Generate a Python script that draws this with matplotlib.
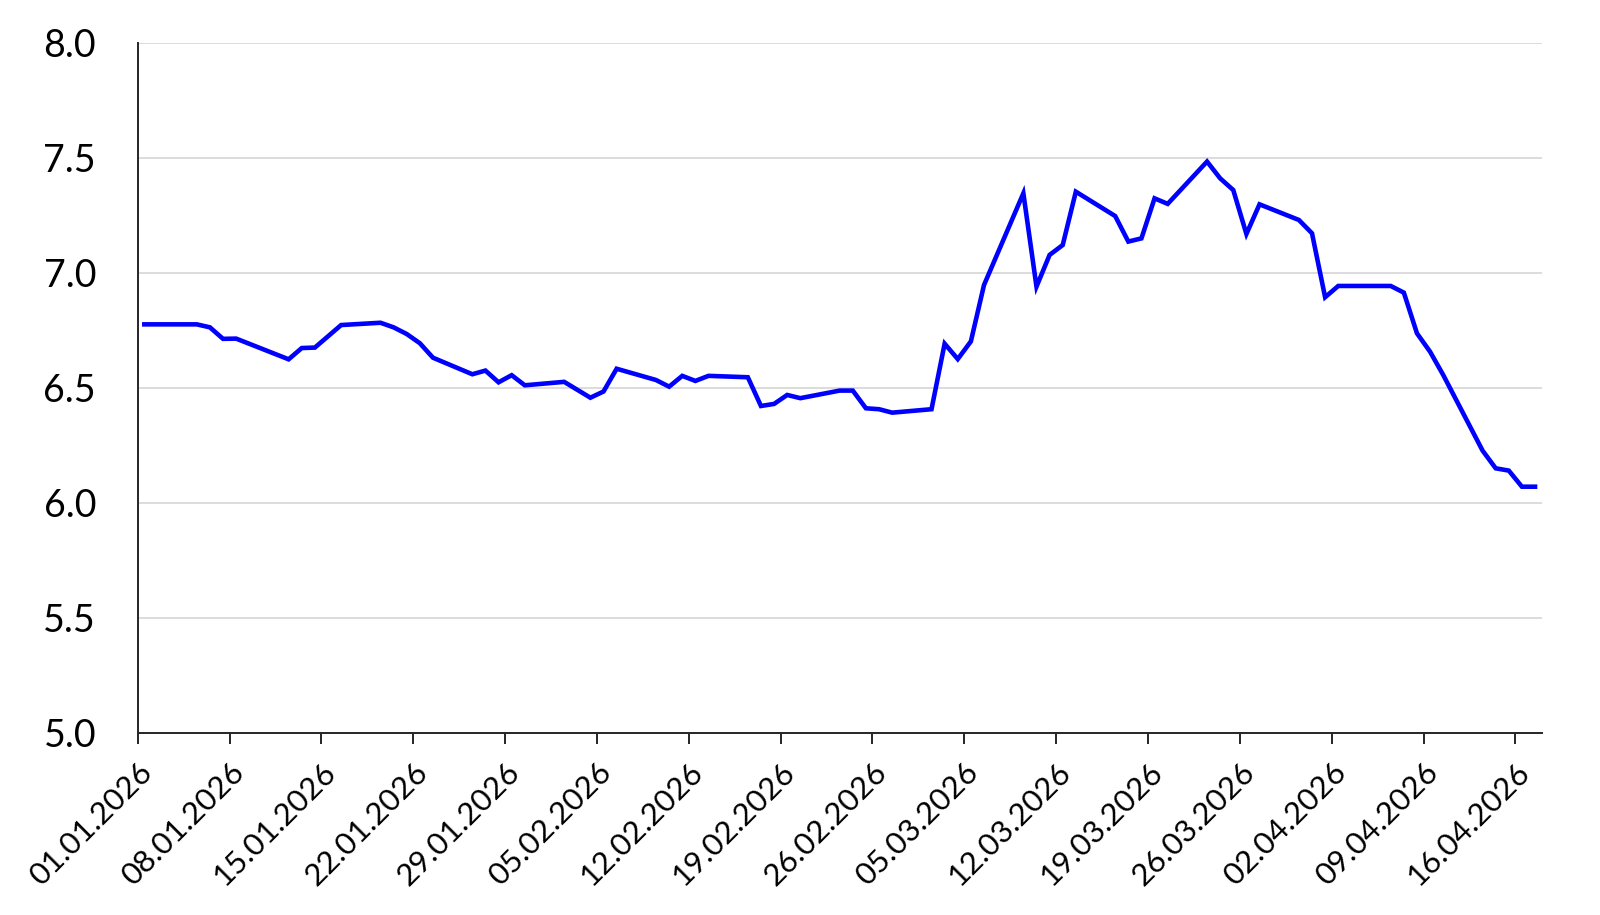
import matplotlib
matplotlib.use("Agg")
from matplotlib import pyplot as plt
import matplotlib.dates as mdates
import pandas as pd

# daily values (business days)
dates = ["01.01.2026", "05.01.2026", "06.01.2026", "07.01.2026", "08.01.2026",
         "12.01.2026", "13.01.2026", "14.01.2026", "16.01.2026", "19.01.2026",
         "20.01.2026", "21.01.2026", "22.01.2026", "23.01.2026", "26.01.2026",
         "27.01.2026", "28.01.2026", "29.01.2026", "30.01.2026", "02.02.2026",
         "04.02.2026", "05.02.2026", "06.02.2026", "09.02.2026", "10.02.2026",
         "11.02.2026", "12.02.2026", "13.02.2026", "16.02.2026", "17.02.2026",
         "18.02.2026", "19.02.2026", "20.02.2026", "23.02.2026", "24.02.2026",
         "25.02.2026", "26.02.2026", "27.02.2026", "02.03.2026", "03.03.2026",
         "04.03.2026", "05.03.2026", "06.03.2026", "09.03.2026", "10.03.2026",
         "11.03.2026", "12.03.2026", "13.03.2026", "16.03.2026", "17.03.2026",
         "18.03.2026", "19.03.2026", "20.03.2026", "23.03.2026", "24.03.2026",
         "25.03.2026", "26.03.2026", "27.03.2026", "30.03.2026", "31.03.2026",
         "01.04.2026", "02.04.2026", "06.04.2026", "07.04.2026", "08.04.2026",
         "09.04.2026", "10.04.2026", "13.04.2026", "14.04.2026", "15.04.2026",
         "16.04.2026", "17.04.2026"]
values = [6.776, 6.776, 6.763, 6.713, 6.714,
          6.624, 6.673, 6.675, 6.773, 6.783,
          6.763, 6.734, 6.694, 6.631, 6.559,
          6.575, 6.524, 6.555, 6.511, 6.526,
          6.457, 6.484, 6.583, 6.534, 6.505,
          6.552, 6.530, 6.552, 6.546, 6.421,
          6.430, 6.469, 6.455, 6.488, 6.488,
          6.411, 6.407, 6.392, 6.407, 6.692,
          6.625, 6.702, 6.947, 7.346, 6.940,
          7.078, 7.121, 7.353, 7.247, 7.136,
          7.150, 7.324, 7.300, 7.484, 7.411,
          7.360, 7.169, 7.298, 7.230, 7.172,
          6.894, 6.943, 6.943, 6.914, 6.737,
          6.657, 6.556, 6.227, 6.150, 6.140,
          6.070, 6.070]
y_ticks = [5.0, 5.5, 6.0, 6.5, 7.0, 7.5, 8.0]

plt.rcParams['font.family'] = ['Lato', 'DejaVu Sans']

x = pd.to_datetime(dates, format="%d.%m.%Y") + pd.Timedelta(hours=12)
tick_dates = pd.date_range("2026-01-01", "2026-04-16", freq="7D")

fig = plt.figure(figsize=(16, 9.15), dpi=100)
ax = fig.add_axes([0.0861, 0.1992, 0.8774, 0.7539])

ax.plot(x, values, color="#0000ff", lw=3.3, solid_joinstyle="miter")

ax.set_ylim(5.0, 8.0)
ax.set_yticks(y_ticks)
ax.set_yticklabels([f"{v:.1f}" for v in y_ticks])
ax.set_xlim(pd.Timestamp("2026-01-01"), pd.Timestamp("2026-04-18"))
ax.set_xticks(tick_dates)
ax.xaxis.set_major_formatter(mdates.DateFormatter("%d.%m.%Y"))

ax.grid(axis="y", color="#d9d9d9", lw=1.3)
ax.set_axisbelow(True)
for s in ["top", "right"]:
    ax.spines[s].set_visible(False)
for s in ["left", "bottom"]:
    ax.spines[s].set_color("#262626")
    ax.spines[s].set_linewidth(1.4)

ax.tick_params(axis="y", length=0, pad=30, labelsize=27)
ax.tick_params(axis="x", length=8, width=1.4, color="#262626", pad=10, labelsize=22.5)
for lab in ax.get_xticklabels():
    lab.set_rotation(45)
    lab.set_ha("right")
    lab.set_va("top")
    lab.set_rotation_mode("anchor")

plt.savefig("out.png", dpi=100)
